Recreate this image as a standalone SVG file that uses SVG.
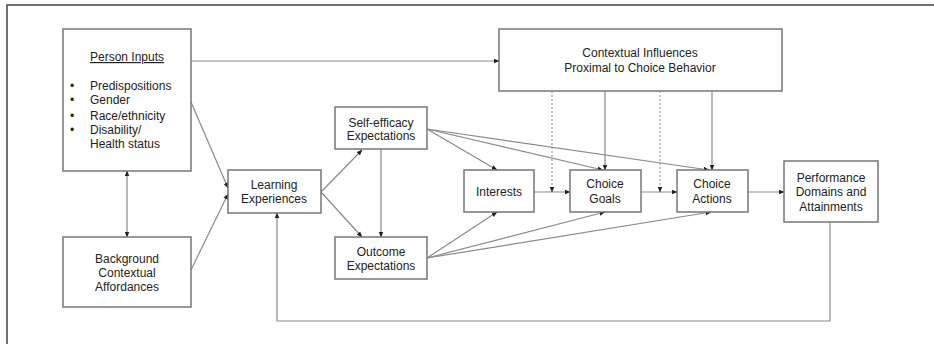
<svg xmlns="http://www.w3.org/2000/svg" width="934" height="344" viewBox="0 0 934 344">
<defs>
<marker id="ah" viewBox="0 0 10 10" refX="9" refY="5" markerWidth="6" markerHeight="6" orient="auto-start-reverse" markerUnits="userSpaceOnUse">
<path d="M0,1 L10,5 L0,9 z" fill="#222"/>
</marker>
<style>
.box{fill:#fff;stroke:#777;stroke-width:1.5}
.t{font-family:"Liberation Sans",Arial,sans-serif;font-size:12px;fill:#222;text-anchor:middle}
.tl{font-family:"Liberation Sans",Arial,sans-serif;font-size:12px;fill:#222}
.c{fill:none;stroke:#8a8a8a;stroke-width:1.2;marker-end:url(#ah)}
.d{fill:none;stroke:#8a8a8a;stroke-width:1;stroke-dasharray:2,2;marker-end:url(#ah)}
</style>
</defs>
<rect width="934" height="344" fill="#fff"/>
<path d="M7,344 L7,5 L934,5" fill="none" stroke="#444" stroke-width="1.5"/>
<g id="connectors">
<line class="c" x1="191" y1="61" x2="499" y2="61"/>
<line class="c" x1="191" y1="102" x2="228" y2="188"/>
<line class="c" x1="191" y1="270" x2="228" y2="194"/>
<line class="c" x1="127" y1="171" x2="127" y2="237" marker-start="url(#ah)"/>
<line class="c" x1="321" y1="192" x2="362" y2="150"/>
<line class="c" x1="321" y1="192" x2="362" y2="237"/>
<line class="c" x1="381" y1="149" x2="381" y2="237"/>
<line class="c" x1="427" y1="129" x2="497" y2="170"/>
<line class="c" x1="427" y1="129" x2="603" y2="170"/>
<line class="c" x1="427" y1="129" x2="709" y2="170"/>
<line class="c" x1="427" y1="258" x2="497" y2="212"/>
<line class="c" x1="427" y1="258" x2="605" y2="212"/>
<line class="c" x1="427" y1="258" x2="711" y2="212"/>
<line class="c" x1="534" y1="192" x2="570" y2="192"/>
<line class="c" x1="641" y1="192" x2="677" y2="192"/>
<line class="c" x1="748" y1="192" x2="784" y2="192"/>
<line class="c" x1="605" y1="91" x2="605" y2="170"/>
<line class="c" x1="712" y1="91" x2="712" y2="170"/>
<line class="d" x1="552" y1="91" x2="552" y2="192"/>
<line class="d" x1="660" y1="91" x2="660" y2="192"/>
<path class="c" d="M830,222 L830,321 L277,321 L277,213"/>
</g>
<g id="person-inputs">
<rect class="box" x="63" y="29" width="128" height="142"/>
<text class="t" x="127" y="61" text-decoration="underline">Person Inputs</text>
<text class="tl" x="70" y="90">•</text>
<text class="tl" x="70" y="104">•</text>
<text class="tl" x="70" y="120">•</text>
<text class="tl" x="70" y="134">•</text>
<text class="tl" x="90" y="90">Predispositions</text>
<text class="tl" x="90" y="104">Gender</text>
<text class="tl" x="90" y="120">Race/ethnicity</text>
<text class="tl" x="90" y="134">Disability/</text>
<text class="tl" x="90" y="148">Health status</text>
</g>
<g id="background">
<rect class="box" x="63" y="237" width="128" height="70"/>
<text class="t" x="127" y="263">Background</text>
<text class="t" x="127" y="277">Contextual</text>
<text class="t" x="127" y="291">Affordances</text>
</g>
<g id="learning">
<rect class="box" x="228" y="170" width="93" height="43"/>
<text class="t" x="274" y="189">Learning</text>
<text class="t" x="274" y="203">Experiences</text>
</g>
<g id="self-efficacy">
<rect class="box" x="335" y="107" width="92" height="42"/>
<text class="t" x="381" y="127">Self-efficacy</text>
<text class="t" x="381" y="140">Expectations</text>
</g>
<g id="outcome">
<rect class="box" x="335" y="237" width="92" height="42"/>
<text class="t" x="381" y="256">Outcome</text>
<text class="t" x="381" y="270">Expectations</text>
</g>
<g id="interests">
<rect class="box" x="464" y="170" width="70" height="42"/>
<text class="t" x="499" y="196">Interests</text>
</g>
<g id="choice-goals">
<rect class="box" x="570" y="170" width="71" height="42"/>
<text class="t" x="605" y="188">Choice</text>
<text class="t" x="605" y="203">Goals</text>
</g>
<g id="choice-actions">
<rect class="box" x="677" y="170" width="71" height="42"/>
<text class="t" x="712" y="188">Choice</text>
<text class="t" x="712" y="203">Actions</text>
</g>
<g id="performance">
<rect class="box" x="784" y="161" width="94" height="61"/>
<text class="t" x="831" y="182">Performance</text>
<text class="t" x="831" y="196">Domains and</text>
<text class="t" x="831" y="211">Attainments</text>
</g>
<g id="contextual-influences">
<rect class="box" x="499" y="29" width="283" height="62"/>
<text class="t" x="640" y="57">Contextual Influences</text>
<text class="t" x="640" y="72">Proximal to Choice Behavior</text>
</g>
</svg>
